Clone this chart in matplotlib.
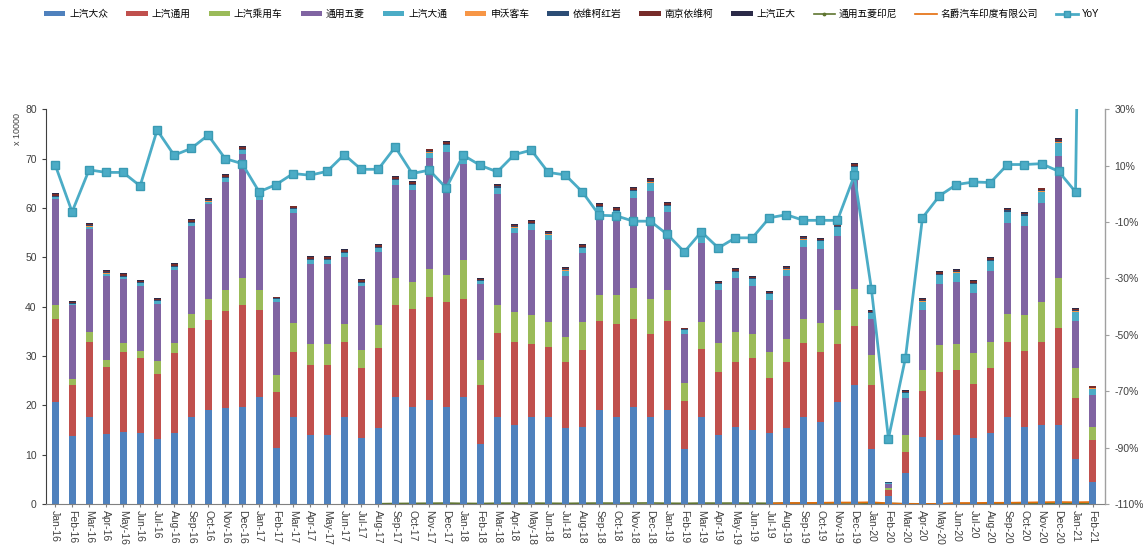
import numpy as np
import pandas as pd
import matplotlib
matplotlib.use("Agg")
import matplotlib.pyplot as plt
from matplotlib.ticker import FuncFormatter

plt.rcParams["font.family"] = ["Liberation Sans", "Noto Sans CJK SC", "DejaVu Sans"]

# monthly sales, x 10000 units
months = pd.date_range("2016-01-01", "2021-02-01", freq="MS").strftime("%b-%y").tolist()

saic_vw = [20.7, 13.8, 17.7, 14.1, 14.5, 14.3, 13.2, 14.3, 17.7, 19.0, 19.4, 19.7,
           21.7, 11.3, 17.7, 14.0, 14.0, 17.7, 13.3, 15.3, 21.7, 19.7, 21.1, 19.7,
           21.7, 12.1, 17.7, 16.0, 17.7, 17.7, 15.5, 15.7, 19.0, 17.7, 19.7, 17.7,
           19.0, 11.1, 17.7, 14.0, 15.7, 15.0, 14.3, 15.3, 17.7, 16.7, 20.7, 24.1,
           11.1, 1.6, 6.2, 13.6, 13.0, 14.0, 13.3, 14.3, 17.7, 15.7, 16.0, 16.0,
           9.2, 4.5]
saic_gm = [16.8, 10.4, 15.2, 13.7, 16.3, 15.2, 13.1, 16.2, 17.9, 18.3, 19.7, 20.7,
           17.6, 11.4, 13.1, 14.1, 14.1, 15.2, 14.2, 16.4, 18.7, 19.9, 20.9, 21.3,
           19.8, 12.1, 16.9, 16.9, 14.8, 14.2, 13.3, 15.5, 18.0, 18.7, 17.8, 16.7,
           18.0, 9.8, 13.7, 12.8, 13.1, 14.5, 11.3, 13.5, 15.0, 14.1, 11.8, 11.9,
           13.0, 1.2, 4.4, 9.3, 13.8, 13.1, 11.1, 13.2, 15.2, 15.3, 16.9, 19.6,
           12.2, 8.5]
saic_pv = [2.9, 1.2, 1.9, 1.4, 1.9, 1.5, 2.6, 2.2, 2.9, 4.3, 4.2, 5.3,
           4.0, 3.4, 5.8, 4.4, 4.4, 3.5, 3.7, 4.5, 5.3, 5.4, 5.7, 5.4,
           7.9, 5.0, 5.7, 6.0, 5.8, 5.0, 5.0, 5.6, 5.4, 5.9, 6.2, 7.1,
           6.3, 3.7, 5.4, 5.9, 6.1, 4.9, 5.2, 4.7, 4.8, 5.8, 6.8, 7.6,
           6.1, 0.5, 3.4, 4.2, 5.4, 5.4, 6.1, 5.4, 5.7, 7.3, 8.1, 10.2,
           6.1, 2.7]
sgmw = [21.4, 14.9, 20.9, 17.0, 12.8, 13.2, 11.7, 14.8, 17.8, 19.1, 22.0, 25.2,
        18.4, 14.9, 22.3, 16.2, 16.1, 13.6, 12.9, 14.9, 18.9, 18.6, 22.4, 25.0,
        19.5, 15.3, 22.6, 16.0, 17.2, 16.5, 12.5, 14.0, 16.4, 15.8, 18.3, 22.0,
        15.9, 9.8, 16.1, 10.6, 10.8, 9.8, 10.6, 12.7, 14.5, 15.0, 15.1, 22.7,
        7.2, 0.8, 7.4, 12.3, 12.4, 12.5, 12.3, 14.3, 18.3, 18.0, 19.9, 24.8,
        9.6, 6.3]
maxus = [0.4, 0.3, 0.5, 0.5, 0.5, 0.5, 0.5, 0.5, 0.6, 0.6, 0.7, 0.8,
         0.6, 0.5, 0.8, 0.7, 0.8, 0.8, 0.7, 0.8, 1.0, 1.0, 1.1, 1.3,
         1.1, 0.7, 1.2, 1.1, 1.2, 1.2, 1.0, 1.1, 1.4, 1.3, 1.4, 1.6,
         1.2, 0.8, 1.4, 1.2, 1.3, 1.3, 1.1, 1.3, 1.6, 1.6, 1.7, 2.0,
         1.3, 0.2, 1.0, 1.6, 1.8, 1.9, 1.8, 2.0, 2.3, 2.1, 2.4, 2.6,
         1.9, 1.4]
sunwin = [0.04, 0.02, 0.05, 0.05, 0.04, 0.05, 0.04, 0.05, 0.05, 0.06, 0.06, 0.09,
          0.03, 0.02, 0.04, 0.05, 0.05, 0.05, 0.04, 0.05, 0.05, 0.06, 0.07, 0.10,
          0.03, 0.02, 0.04, 0.05, 0.05, 0.05, 0.04, 0.05, 0.05, 0.06, 0.07, 0.10,
          0.03, 0.02, 0.04, 0.04, 0.05, 0.05, 0.04, 0.05, 0.05, 0.05, 0.06, 0.09,
          0.02, 0.01, 0.02, 0.04, 0.04, 0.05, 0.04, 0.04, 0.05, 0.05, 0.06, 0.09,
          0.03, 0.02]
hongyan = [0.20, 0.15, 0.22, 0.20, 0.20, 0.19, 0.18, 0.19, 0.21, 0.22, 0.23, 0.22,
           0.22, 0.16, 0.25, 0.24, 0.23, 0.22, 0.20, 0.22, 0.24, 0.24, 0.25, 0.24,
           0.23, 0.16, 0.25, 0.24, 0.23, 0.22, 0.20, 0.21, 0.22, 0.22, 0.23, 0.22,
           0.22, 0.15, 0.24, 0.22, 0.21, 0.20, 0.19, 0.20, 0.21, 0.22, 0.22, 0.21,
           0.18, 0.05, 0.20, 0.25, 0.24, 0.23, 0.22, 0.23, 0.24, 0.24, 0.25, 0.24,
           0.22, 0.17]
naveco = [0.33, 0.25, 0.33, 0.32, 0.31, 0.32, 0.30, 0.31, 0.33, 0.33, 0.34, 0.36,
          0.33, 0.25, 0.34, 0.33, 0.32, 0.33, 0.31, 0.32, 0.34, 0.34, 0.35, 0.37,
          0.34, 0.26, 0.35, 0.34, 0.33, 0.33, 0.31, 0.32, 0.34, 0.34, 0.35, 0.37,
          0.33, 0.25, 0.34, 0.33, 0.32, 0.32, 0.30, 0.31, 0.33, 0.33, 0.34, 0.36,
          0.30, 0.08, 0.28, 0.34, 0.33, 0.33, 0.31, 0.32, 0.34, 0.34, 0.35, 0.37,
          0.32, 0.26]
chtc = [0.18, 0.12, 0.16, 0.18, 0.19, 0.18, 0.18, 0.19, 0.18, 0.17, 0.17, 0.17,
        0.17, 0.12, 0.16, 0.18, 0.18, 0.18, 0.17, 0.18, 0.17, 0.16, 0.17, 0.18,
        0.18, 0.12, 0.16, 0.17, 0.18, 0.18, 0.18, 0.18, 0.17, 0.16, 0.17, 0.18,
        0.17, 0.12, 0.16, 0.18, 0.18, 0.18, 0.17, 0.18, 0.17, 0.16, 0.17, 0.18,
        0.15, 0.06, 0.14, 0.18, 0.18, 0.18, 0.17, 0.18, 0.17, 0.16, 0.17, 0.18,
        0.17, 0.13]
sgmw_indonesia = [np.nan] * 19 + [
    0.05, 0.10, 0.12, 0.15, 0.18,
    0.12, 0.10, 0.15, 0.16, 0.17, 0.15, 0.12, 0.16, 0.18, 0.17, 0.18, 0.20,
    0.15, 0.13, 0.18, 0.17, 0.18, 0.16, 0.14, 0.17, 0.18, 0.18, 0.19, 0.20,
    0.14, 0.10, 0.05, 0.02, 0.04, 0.06, 0.08, 0.10, 0.12, 0.13, 0.14, 0.15,
    0.12, 0.11]
mg_india = [np.nan] * 42 + [
    0.10, 0.20, 0.20, 0.25, 0.30, 0.30,
    0.35, 0.15, 0.02, 0.00, 0.03, 0.20, 0.20, 0.25, 0.25, 0.30, 0.35, 0.40,
    0.35, 0.40]
yoy = [10.4, -6.4, 8.5, 7.6, 7.6, 2.8, 22.6, 13.7, 16.1, 20.8, 12.5, 10.7,
       0.7, 3.3, 7.2, 6.6, 8.0, 13.9, 8.7, 8.7, 16.6, 7.2, 8.4, 2.1,
       13.7, 10.1, 7.8, 13.9, 15.5, 7.6, 6.7, 0.7, -7.6, -7.8, -9.7, -9.7,
       -14.4, -20.6, -13.5, -19.2, -15.6, -15.6, -8.5, -7.4, -9.4, -9.4, -9.4, 6.6,
       -33.8, -86.8, -58.2, -8.5, -0.7, 3.3, 4.2, 4.0, 10.4, 10.4, 10.7, 8.0,
       0.7, 420.0]

stack_names = ["上汽大众", "上汽通用", "上汽乘用车", "通用五菱", "上汽大通",
               "申沃客车", "依维柯红岩", "南京依维柯", "上汽正大"]
stack_values = [saic_vw, saic_gm, saic_pv, sgmw, maxus, sunwin, hongyan, naveco, chtc]
stack_colors = ["#4F81BD", "#C0504D", "#9BBB59", "#8064A2", "#4BACC6",
                "#F79646", "#2C4D75", "#772C2A", "#2B2A48"]

x = np.arange(len(months))
fig = plt.figure(figsize=(11.43, 5.49), dpi=100)
ax = fig.add_axes([0.040, 0.082, 0.927, 0.719])
ax2 = ax.twinx()

# near-zero overseas lines sit under the bars
ax.plot(x, sgmw_indonesia, color="#5F7530", lw=1.2, marker="o", ms=2.5,
        zorder=1, label="通用五菱印尼")
ax.plot(x, mg_india, color="#E46C0A", lw=1.2, zorder=1, label="名爵汽车印度有限公司")

bottom = np.zeros(len(months))
for name, vals, col in zip(stack_names, stack_values, stack_colors):
    vals = np.array(vals)
    ax.bar(x, vals, width=0.42, bottom=bottom, color=col, label=name, zorder=2)
    bottom += vals

ax2.plot(x, yoy, color="#4BACC6", lw=2, marker="s", ms=6,
         markerfacecolor="#4BACC6", markeredgecolor="#3A9AB3", label="YoY", zorder=3)

ax.set_xlim(-0.55, 61.75)
ax.set_ylim(0, 80)
ax.set_yticks(np.arange(0, 81, 10))
ax2.set_ylim(-110, 30)
ax2.set_yticks(np.arange(-110, 31, 20))
ax2.yaxis.set_major_formatter(FuncFormatter(lambda v, p: "%d%%" % v))

ax.set_xticks(x)
ax.set_xticklabels(months, rotation=-90, fontsize=7.5, color="#404040")
ax.tick_params(axis="y", labelsize=7.5, labelcolor="#404040", length=3, color="#404040")
ax2.tick_params(axis="y", labelsize=7.5, labelcolor="#404040", length=3, color="#A0A0A0")
ax.tick_params(axis="x", length=2, pad=2, color="#808080")
ax.set_ylabel("x 10000", fontsize=6.5, color="#404040", labelpad=2)
ax.yaxis.set_label_coords(-0.022, 0.95)

for a in (ax, ax2):
    a.spines["top"].set_visible(False)
ax.spines["left"].set_color("#404040")
ax.spines["bottom"].set_color("#808080")
ax2.spines["right"].set_color("#A0A0A0")
ax2.spines["left"].set_visible(False)
ax2.spines["bottom"].set_visible(False)

h1, l1 = ax.get_legend_handles_labels()
h2, l2 = ax2.get_legend_handles_labels()
order = stack_names + ["通用五菱印尼", "名爵汽车印度有限公司", "YoY"]
lookup = dict(zip(l1 + l2, h1 + h2))
fig.legend([lookup[k] for k in order], order, loc="upper center",
           bbox_to_anchor=(0.5, 1.0), ncol=12, frameon=False, fontsize=7,
           handlelength=2.2, handleheight=0.5, columnspacing=1.85, handletextpad=0.4,
           markerscale=0.7)

fig.savefig("out.png", dpi=100)
